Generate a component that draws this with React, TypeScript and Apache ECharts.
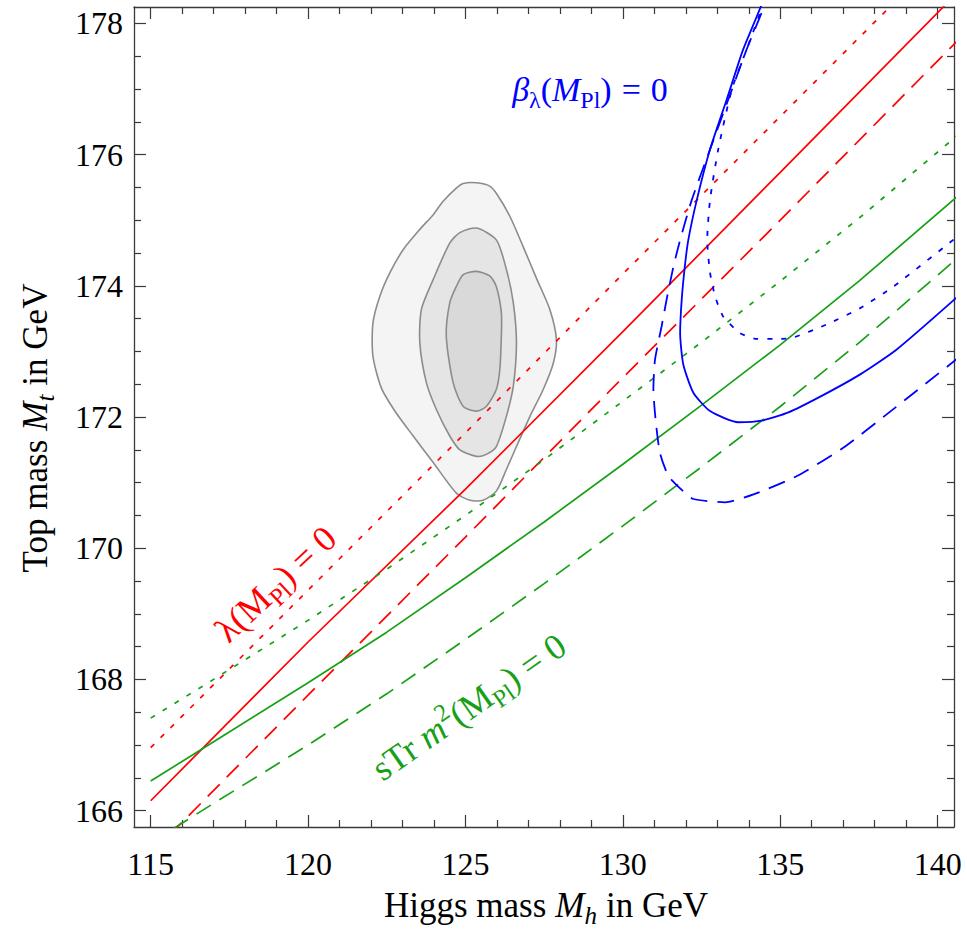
import React, { useEffect, useRef } from "react";
import * as echarts from "echarts";

// ---- axis extents and ticks ----
const X_RANGE = [114.47, 140.52];
const Y_RANGE = [165.75, 178.25];
const X_MAJOR = [115, 120, 125, 130, 135, 140];
const X_MINOR = [116, 117, 118, 119, 121, 122, 123, 124, 126, 127, 128, 129, 131, 132, 133, 134, 136, 137, 138, 139];
const Y_MAJOR = [166, 168, 170, 172, 174, 176, 178];
const Y_MINOR = [166.5, 167, 167.5, 168.5, 169, 169.5, 170.5, 171, 171.5, 172.5, 173, 173.5, 174.5, 175, 175.5, 176.5, 177, 177.5];

// ---- lambda(M_Pl) = 0 (red): central, upper, lower ----
const lambdaCentral: number[][] = [[115, 166.15], [120, 168.57], [125, 170.9], [130, 173.3], [135, 175.73], [141, 178.65]];
const lambdaUpper: number[][] = [[115, 166.96], [120, 169.36], [125, 171.76], [130, 174.18], [135, 176.58], [140, 178.98]];
const lambdaLower: number[][] = [[115, 165.34], [120, 167.76], [125, 170.17], [130, 172.6], [135, 175.0], [140.6, 177.72]];

// ---- sTr m^2(M_Pl) = 0 (green) ----
const strCentral: number[][] = [[115, 166.45], [117, 167.05], [120, 167.95], [122.5, 168.72], [125, 169.55], [127.5, 170.4], [130, 171.28], [132.5, 172.18], [135, 173.1], [137.5, 174.07], [140.6, 175.35]];
const strUpper: number[][] = [[115, 167.41], [117, 168.0], [120, 168.9], [122.5, 169.68], [125, 170.5], [127.5, 171.35], [130, 172.24], [132.5, 173.14], [135, 174.07], [137.5, 175.03], [140.6, 176.28]];
const strLower: number[][] = [[115, 165.51], [117, 166.11], [120, 167.0], [122.5, 167.78], [125, 168.61], [127.5, 169.46], [130, 170.34], [132.5, 171.24], [135, 172.16], [137.5, 173.13], [140.6, 174.41]];

// ---- beta_lambda(M_Pl) = 0 (blue) ----
const betaCentral: number[][] = [[134.55, 178.55], [134.41, 178.29], [133.82, 177.6], [133.3, 176.84], [132.77, 176.08], [132.35, 175.31], [132.08, 174.7], [131.97, 174.3], [131.87, 173.79], [131.82, 173.28], [131.92, 172.8], [132.24, 172.37], [132.77, 172.09], [133.67, 171.92], [134.46, 171.95], [135.26, 172.07], [136.27, 172.31], [137.54, 172.65], [138.7, 173.03], [140.6, 173.82]];
const betaUpper: number[][] = [[134.6, 178.55], [134.46, 178.29], [133.93, 177.6], [133.46, 176.99], [133.03, 176.08], [132.77, 175.31], [132.68, 174.7], [132.77, 174.2], [132.93, 173.84], [133.19, 173.53], [133.72, 173.28], [134.25, 173.19], [134.78, 173.19], [135.31, 173.2], [136.47, 173.41], [137.54, 173.66], [138.6, 173.99], [140.6, 174.74]];
const betaLower: number[][] = [[134.65, 178.55], [134.51, 178.29], [133.93, 177.6], [133.35, 176.84], [132.77, 176.08], [132.19, 175.31], [131.82, 174.7], [131.61, 174.3], [131.39, 173.79], [131.23, 173.38], [131.02, 172.87], [130.97, 172.42], [131.05, 171.91], [131.18, 171.45], [131.45, 171.1], [131.87, 170.89], [132.24, 170.75], [133.25, 170.7], [134.15, 170.82], [135.53, 171.1], [137.0, 171.53], [138.38, 172.04], [140.6, 172.88]];

// ---- measurement contours (outer, middle, inner) ----
const contourOuter: number[][] = [[125.35, 175.57], [125.77, 175.52], [125.98, 175.41], [126.41, 175.06], [126.83, 174.6], [127.26, 174.11], [127.68, 173.64], [127.89, 173.18], [127.79, 172.82], [127.47, 172.42], [127.05, 172.01], [126.62, 171.55], [126.3, 171.2], [125.98, 170.87], [125.56, 170.73], [125.14, 170.73], [124.71, 170.84], [123.97, 171.31], [123.34, 171.71], [122.8, 172.06], [122.33, 172.44], [122.06, 172.93], [122.06, 173.43], [122.28, 173.84], [122.6, 174.2], [123.02, 174.55], [123.55, 174.86], [123.97, 175.08], [124.29, 175.29], [124.71, 175.49], [124.93, 175.56]];
const contourMiddle: number[][] = [[125.35, 174.88], [125.98, 174.7], [126.3, 174.25], [126.52, 173.74], [126.62, 173.13], [126.52, 172.47], [126.3, 172.01], [125.98, 171.55], [125.66, 171.43], [125.35, 171.4], [124.82, 171.5], [124.5, 171.71], [124.08, 172.11], [123.76, 172.52], [123.55, 173.13], [123.6, 173.64], [123.97, 174.09], [124.5, 174.65], [124.82, 174.81]];
const contourInner: number[][] = [[125.35, 174.22], [125.77, 174.15], [125.98, 173.99], [126.14, 173.59], [126.14, 173.23], [126.09, 172.72], [125.98, 172.42], [125.66, 172.16], [125.35, 172.09], [124.93, 172.16], [124.61, 172.52], [124.39, 173.23], [124.5, 173.74], [124.71, 173.99], [124.93, 174.17]];
const CONTOURS = [contourOuter, contourMiddle, contourInner];
const CONTOUR_FILLS = ["#f4f4f4", "#e5e5e5", "#d9d9d9"];

const SERIF = "Liberation Serif";
const AXIS_COLOR = "#3a3a3a";
const RED = "#ff0000";
const GREEN = "#16a016";
const BLUE = "#0000ff";

type Seg = { t: string; size: number; italic?: boolean; dy?: number; gap?: number };

let measureCtx: CanvasRenderingContext2D | null = null;
function segWidth(s: Seg): number {
  if (!measureCtx) measureCtx = document.createElement("canvas").getContext("2d");
  measureCtx!.font = `${s.italic ? "italic " : ""}${s.size}px "${SERIF}"`;
  return measureCtx!.measureText(s.t).width;
}

// Builds a math-style label (italics, sub/superscripts) centred on its baseline at (x, y).
function mathLabel(segs: Seg[], x: number, y: number, color: string, rotationDeg = 0) {
  const widths = segs.map(segWidth);
  const total = widths.reduce((a, b) => a + b, 0) + segs.reduce((a, s) => a + (s.gap || 0), 0);
  let cx = -total / 2;
  const children = segs.map((s, i) => {
    cx += s.gap || 0;
    const el = {
      type: "text",
      x: cx,
      y: (s.dy || 0) - 0.34 * s.size,
      style: {
        text: s.t,
        fill: color,
        fontSize: s.size,
        fontFamily: SERIF,
        fontStyle: s.italic ? "italic" : "normal",
        align: "left",
        verticalAlign: "middle",
      },
    };
    cx += widths[i];
    return el;
  });
  return { type: "group", x, y, rotation: (rotationDeg * Math.PI) / 180, children, z: 100 };
}

const tickLabelStyle = {
  color: "#000",
  fontFamily: SERIF,
  fontSize: 32,
  fontWeight: "normal",
};

function xAxis(grid: number, position: string, ticks: number[], len: number, showLine: boolean, labels: boolean) {
  return {
    type: "value",
    gridIndex: grid,
    position,
    min: X_RANGE[0],
    max: X_RANGE[1],
    axisLine: { show: showLine, onZero: false, lineStyle: { color: AXIS_COLOR, width: 1.3 } },
    axisTick: { show: true, inside: true, length: len, customValues: ticks, lineStyle: { color: AXIS_COLOR, width: 1.2 } },
    axisLabel: {
      show: labels,
      customValues: X_MAJOR,
      margin: 21,
      ...tickLabelStyle,
      formatter: (v: number) => String(v),
    },
    splitLine: { show: false },
  };
}

function yAxis(grid: number, position: string, ticks: number[], len: number, showLine: boolean, labels: boolean) {
  return {
    type: "value",
    gridIndex: grid,
    position,
    min: Y_RANGE[0],
    max: Y_RANGE[1],
    axisLine: { show: showLine, onZero: false, lineStyle: { color: AXIS_COLOR, width: 1.3 } },
    axisTick: { show: true, inside: true, length: len, customValues: ticks, lineStyle: { color: AXIS_COLOR, width: 1.2 } },
    axisLabel: {
      show: labels,
      customValues: Y_MAJOR,
      margin: 11,
      ...tickLabelStyle,
      formatter: (v: number) => String(v),
    },
    splitLine: { show: false },
  };
}

function curve(data: number[][], color: string, dash: number[] | "solid", width = 1.7, smooth: number | boolean = false) {
  return {
    type: "line",
    xAxisIndex: 0,
    yAxisIndex: 0,
    data,
    showSymbol: false,
    symbol: "none",
    smooth,
    clip: true,
    lineStyle: { color, width, type: dash, cap: "butt" },
    emphasis: { disabled: true },
  };
}

const DOTTED = [5, 9];
const DASHED = [17, 10];

export default function App() {
  const ref = useRef<HTMLDivElement>(null);

  useEffect(() => {
    if (!ref.current) return;
    const chart = echarts.init(ref.current, undefined, { renderer: "svg" });
    const gridRect = { left: 134, right: 13, top: 7, bottom: 112 };

    chart.setOption({
      animation: false,
      backgroundColor: "#ffffff",
      textStyle: { fontFamily: SERIF, color: "#000" },
      grid: [gridRect, gridRect],
      xAxis: [
        xAxis(0, "bottom", X_MAJOR, 12, true, true),
        xAxis(0, "top", X_MAJOR, 12, true, false),
        xAxis(1, "bottom", X_MINOR, 7, false, false),
        xAxis(1, "top", X_MINOR, 7, false, false),
      ],
      yAxis: [
        yAxis(0, "left", Y_MAJOR, 12, true, true),
        yAxis(0, "right", Y_MAJOR, 12, true, false),
        yAxis(1, "left", Y_MINOR, 7, false, false),
        yAxis(1, "right", Y_MINOR, 7, false, false),
      ],
      series: [
        {
          type: "custom",
          xAxisIndex: 0,
          yAxisIndex: 0,
          clip: true,
          data: CONTOURS.map((c, i) => [c[0][0], c[0][1], i]),
          renderItem: (params: any, api: any) => {
            const pts = CONTOURS[params.dataIndex].map((p) => api.coord(p));
            return {
              type: "polygon",
              shape: { points: pts, smooth: 0.25 },
              style: { fill: CONTOUR_FILLS[params.dataIndex], stroke: "#8c8c8c", lineWidth: 1.6 },
            };
          },
        },
        curve(lambdaUpper, RED, DOTTED),
        curve(lambdaCentral, RED, "solid"),
        curve(lambdaLower, RED, DASHED),
        curve(strUpper, GREEN, DOTTED),
        curve(strCentral, GREEN, "solid"),
        curve(strLower, GREEN, DASHED),
        curve(betaUpper, BLUE, DOTTED, 1.8, 0.2),
        curve(betaCentral, BLUE, "solid", 1.8, 0.2),
        curve(betaLower, BLUE, DASHED, 1.8, 0.2),
      ],
      graphic: [
        mathLabel(
          [
            { t: "β", size: 34, italic: true },
            { t: "λ", size: 24, dy: 7 },
            { t: "(", size: 34 },
            { t: "M", size: 34, italic: true },
            { t: "Pl", size: 24, dy: 7 },
            { t: ")", size: 34 },
            { t: "=", size: 34, gap: 10 },
            { t: "0", size: 34, gap: 10 },
          ],
          590,
          101,
          BLUE
        ),
        mathLabel(
          [
            { t: "λ", size: 36 },
            { t: "(", size: 36 },
            { t: "M", size: 36 },
            { t: "Pl", size: 25, dy: 7 },
            { t: ")", size: 36 },
            { t: "=", size: 36, gap: 9 },
            { t: "0", size: 36, gap: 9 },
          ],
          284,
          593,
          RED,
          43
        ),
        mathLabel(
          [
            { t: "sTr", size: 36 },
            { t: "m", size: 36, italic: true, gap: 9 },
            { t: "2", size: 25, dy: -15 },
            { t: "(", size: 36 },
            { t: "M", size: 36 },
            { t: "Pl", size: 25, dy: 7 },
            { t: ")", size: 36 },
            { t: "=", size: 36, gap: 9 },
            { t: "0", size: 36, gap: 9 },
          ],
          476,
          717,
          GREEN,
          35
        ),
        mathLabel(
          [
            { t: "Higgs mass", size: 35 },
            { t: "M", size: 35, italic: true, gap: 9 },
            { t: "h", size: 25, italic: true, dy: 7 },
            { t: "in GeV", size: 35, gap: 9 },
          ],
          546,
          917,
          "#000"
        ),
        mathLabel(
          [
            { t: "Top mass", size: 35 },
            { t: "M", size: 35, italic: true, gap: 9 },
            { t: "t", size: 25, italic: true, dy: 7 },
            { t: "in GeV", size: 35, gap: 9 },
          ],
          47,
          428,
          "#000",
          90
        ),
      ],
    });

    return () => chart.dispose();
  }, []);

  return <div ref={ref} style={{ position: "fixed", left: 0, top: 0, width: 967, height: 939 }} />;
}
